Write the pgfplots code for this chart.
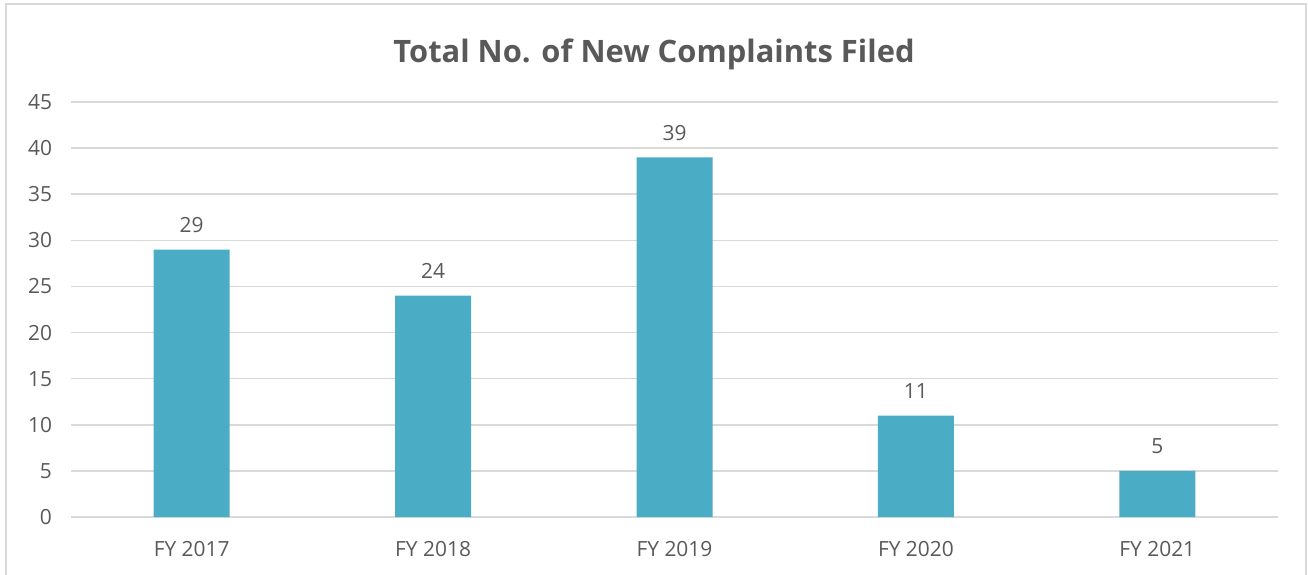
\documentclass[border=0pt]{standalone}
\usepackage{pgfplots}
\pgfplotsset{compat=1.18}
\usepackage{fontspec}
\setmainfont{Open Sans}
\definecolor{barc}{HTML}{4BACC6}
\definecolor{gridc}{HTML}{D9D9D9}
\definecolor{txtc}{HTML}{595959}
\begin{document}
\begin{tikzpicture}
\begin{axis}[
  at={(0,0)}, anchor=south west,
  scale only axis, width=603.5bp, height=207.5bp,
  ybar, bar width=38bp,
  xmin=-0.5, xmax=4.5, ymin=0, ymax=45,
  xtick=data, xticklabels={FY 2017,FY 2018,FY 2019,FY 2020,FY 2021},
  ytick={0,5,...,45},
  ymajorgrids, grid style={gridc, line width=0.8bp},
  axis x line*=bottom, axis y line*=left,
  x axis line style={gridc, line width=0.8bp, -},
  y axis line style={draw=none},
  major tick length=0pt,
  tick label style={font=\fontsize{10.5}{12}\selectfont, text=txtc},
  /pgf/number format/assume math mode=true,
  yticklabel style={xshift=-6bp},
  xticklabel style={yshift=-8.5bp},
  nodes near coords,
  nodes near coords style={font=\fontsize{10.5}{12}\selectfont, text=txtc, yshift=5bp},
  clip=false,
]
\addplot[fill=barc, draw=none] coordinates {(0,29) (1,24) (2,39) (3,11) (4,5)};
\end{axis}
\node[text=txtc, font=\bfseries\fontsize{15.5}{17}\selectfont] at (291.5bp,231.5bp) {Total No. of New Complaints Filed};
\draw[gridc, line width=1bp] (-32.5bp,-40bp) -- (-32.5bp,256.5bp) -- (617.5bp,256.5bp) -- (617.5bp,-40bp);
\pgfresetboundingbox
\path[use as bounding box] (-35.5bp,-29bp) rectangle (618.5bp,258.5bp);
\end{tikzpicture}
\end{document}
